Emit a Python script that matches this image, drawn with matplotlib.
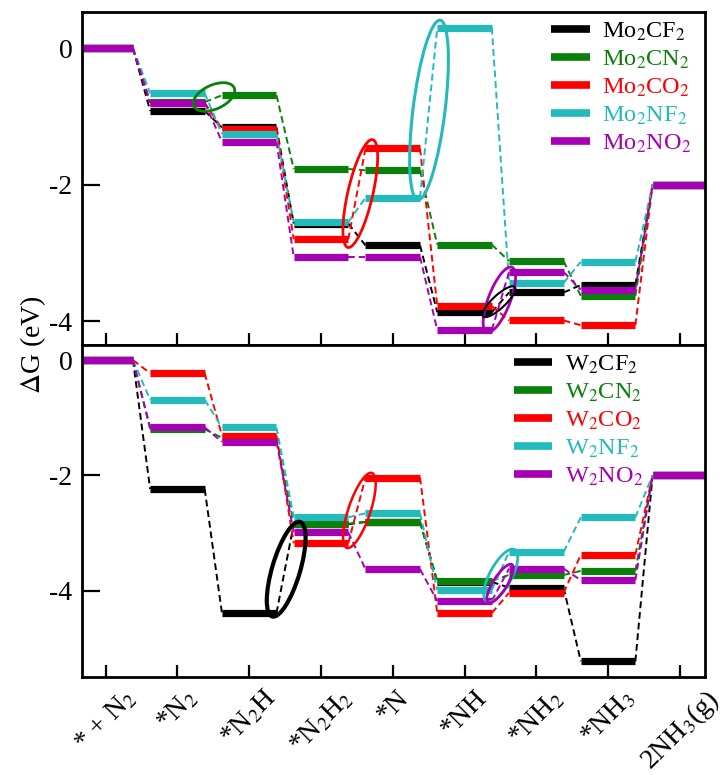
import numpy as np
import matplotlib.pyplot as plt
from matplotlib.patches import Ellipse
from matplotlib.transforms import IdentityTransform

plt.rcParams['font.family'] = ['Liberation Serif', 'DejaVu Serif']
plt.rcParams['mathtext.fontset'] = 'stix'
plt.rcParams['axes.unicode_minus'] = False

steps = [r'* + N$_2$', r'*N$_2$', r'*N$_2$H', r'*N$_2$H$_2$', r'*N',
         r'*NH', r'*NH$_2$', r'*NH$_3$', r'2NH$_3$(g)']

colors = ['#000000', '#0a800a', '#ff0000', '#22baba', '#a600b4']

# Mo-based MXenes (top panel)
mo_names = [r'Mo$_2$CF$_2$', r'Mo$_2$CN$_2$', r'Mo$_2$CO$_2$', r'Mo$_2$NF$_2$', r'Mo$_2$NO$_2$']
mo_CF2 = [0, -0.92, -1.16, -2.57, -2.89, -3.87, -3.58, -3.47, -2.0]
mo_CN2 = [0, -0.79, -0.69, -1.77, -1.79, -2.88, -3.12, -3.63, -2.0]
mo_CO2 = [0, -0.80, -1.18, -2.80, -1.47, -3.78, -3.99, -4.06, -2.0]
mo_NF2 = [0, -0.66, -1.26, -2.55, -2.19, 0.30, -3.44, -3.13, -2.0]
mo_NO2 = [0, -0.80, -1.37, -3.06, -3.06, -4.13, -3.28, -3.54, -2.0]

# W-based MXenes (bottom panel)
w_names = [r'W$_2$CF$_2$', r'W$_2$CN$_2$', r'W$_2$CO$_2$', r'W$_2$NF$_2$', r'W$_2$NO$_2$']
w_CF2 = [0, -2.24, -4.39, -2.85, -2.81, -3.85, -3.95, -5.23, -2.0]
w_CN2 = [0, -1.20, -1.35, -2.84, -2.81, -3.83, -3.73, -3.66, -2.0]
w_CO2 = [0, -0.23, -1.31, -3.18, -2.04, -4.39, -4.04, -3.38, -2.0]
w_NF2 = [0, -0.69, -1.17, -2.73, -2.66, -3.99, -3.33, -2.73, -2.0]
w_NO2 = [0, -1.17, -1.42, -2.99, -3.63, -4.18, -3.62, -3.82, -2.0]

# highlight rings: (start point, end point, minor axis px, color index, lw)
mo_rings = [((1.23, -0.85), (1.79, -0.58), 24, 1, 2.0),
            ((3.375, -2.92), (3.72, -1.34), 25, 2, 2.0),
            ((4.35, -2.22), (4.66, 0.41), 32, 3, 2.2),
            ((5.31, -4.16), (5.66, -3.21), 22, 4, 2.0),
            ((5.26, -3.93), (5.70, -3.50), 13, 0, 1.5)]
w_rings = [((2.32, -4.45), (2.71, -2.81), 28, 0, 3.0),
           ((3.36, -3.26), (3.71, -1.96), 22, 2, 1.8),
           ((5.31, -4.19), (5.70, -3.29), 22, 3, 2.0),
           ((5.33, -4.21), (5.66, -3.55), 14, 4, 2.0)]

hw = 0.38
x = np.arange(len(steps))

fig = plt.figure(figsize=(7.28, 7.75), dpi=100)
ax1 = fig.add_axes([0.1126, 0.5548, 0.8558, 0.4297])
ax2 = fig.add_axes([0.1126, 0.1265, 0.8558, 0.4283])


def draw_panel(ax, series, names, ylim):
    for vals, name, c in zip(series, names, colors):
        for i, v in enumerate(vals):
            ax.plot([x[i] - hw, x[i] + hw], [v, v], color=c, lw=5.2,
                    solid_capstyle='butt', label=name if i == 0 else None)
            if i < len(vals) - 1:
                ax.plot([x[i] + hw, x[i + 1] - hw], [v, vals[i + 1]], color=c,
                        lw=1.4, ls=(0, (3.5, 2)))
    ax.set_xlim(-0.33, 8.35)
    ax.set_ylim(*ylim)
    ax.set_yticks([-4, -2, 0])
    ax.set_xticks(x)
    ax.tick_params(direction='in', width=1.6)
    ax.tick_params(axis='y', length=13, pad=7, labelsize=20)
    ax.tick_params(axis='x', length=9, pad=6, labelsize=20)
    for s in ax.spines.values():
        s.set_linewidth(2.0)


def draw_rings(ax, rings):
    for p0, p1, minor, ci, lw in rings:
        (x0, y0), (x1, y1) = ax.transData.transform([p0, p1])
        ang = np.degrees(np.arctan2(y1 - y0, x1 - x0))
        ax.add_patch(Ellipse(((x0 + x1) / 2, (y0 + y1) / 2), np.hypot(x1 - x0, y1 - y0),
                             minor, angle=ang, transform=IdentityTransform(),
                             fill=False, ec=colors[ci], lw=lw, zorder=5))


draw_panel(ax1, [mo_CF2, mo_CN2, mo_CO2, mo_NF2, mo_NO2], mo_names, (-4.35, 0.53))
draw_panel(ax2, [w_CF2, w_CN2, w_CO2, w_NF2, w_NO2], w_names, (-5.5, 0.26))
ax1.set_xticklabels([])
ax2.set_xticklabels(steps, rotation=45)

draw_rings(ax1, mo_rings)
draw_rings(ax2, w_rings)

for ax, anchor in [(ax1, (0.745, 0.99)), (ax2, (0.685, 0.99))]:
    leg = ax.legend(loc='upper left', bbox_to_anchor=anchor, frameon=False,
                    fontsize=17.5, handlelength=1.6, handletextpad=0.5,
                    labelspacing=0.24, borderpad=0.2, borderaxespad=0)
    for t, c in zip(leg.get_texts(), colors):
        t.set_color(c)
    for h in leg.get_lines():
        h.set_linewidth(5.5)

fig.text(0.045, 0.555, r'$\Delta$G (eV)', rotation=90, fontsize=20,
         ha='center', va='center')

fig.savefig('out.png', dpi=100)
